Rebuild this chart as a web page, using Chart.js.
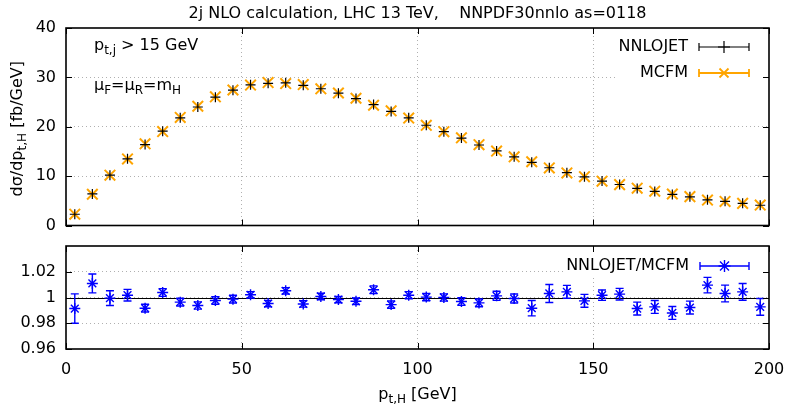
<!DOCTYPE html>
<html>
<head>
<meta charset="utf-8">
<script src="https://cdn.jsdelivr.net/npm/chart.js@4.4.0/dist/chart.umd.min.js"></script>
<style>
  html, body { margin: 0; padding: 0; background: #fff; }
  #wrap { position: relative; width: 786px; height: 406px; }
  canvas { position: absolute; left: 0; }
  #topChart { top: 0; }
  #ratioChart { top: 235px; }
</style>
</head>
<body>
<div id="wrap">
  <canvas id="topChart" width="786" height="235"></canvas>
  <canvas id="ratioChart" width="786" height="171"></canvas>
</div>
<script>
// bin centres, pt_H [GeV]
const binCentres = [2.5, 7.5, 12.5, 17.5, 22.5, 27.5, 32.5, 37.5, 42.5, 47.5,
    52.5, 57.5, 62.5, 67.5, 72.5, 77.5, 82.5, 87.5, 92.5, 97.5,
    102.5, 107.5, 112.5, 117.5, 122.5, 127.5, 132.5, 137.5, 142.5, 147.5,
    152.5, 157.5, 162.5, 167.5, 172.5, 177.5, 182.5, 187.5, 192.5, 197.5];

// dsigma/dpt [fb/GeV]
const nnlojet = [2.28, 6.4, 10.2, 13.5, 16.4, 19.1, 21.8, 24.0, 26.0, 27.4,
    28.5, 28.8, 28.9, 28.4, 27.7, 26.8, 25.7, 24.5, 23.1, 21.8,
    20.3, 19.0, 17.7, 16.3, 15.1, 13.9, 12.8, 11.7, 10.7, 9.85,
    9.0, 8.3, 7.5, 6.9, 6.3, 5.8, 5.2, 4.9, 4.5, 4.1];
const mcfm = [2.30, 6.33, 10.2, 13.48, 16.54, 19.03, 21.88, 24.15, 26.06, 27.44,
    28.44, 28.94, 28.75, 28.54, 27.68, 26.84, 25.77, 24.35, 23.23, 21.76,
    20.29, 19.0, 17.75, 16.37, 15.08, 13.91, 12.91, 11.66, 10.65, 9.88,
    8.98, 8.28, 7.56, 6.95, 6.38, 5.85, 5.15, 4.88, 4.48, 4.13];

// NNLOJET / MCFM
const ratio = [0.9914, 1.0109, 0.9995, 1.0018, 0.9917, 1.0039, 0.9964, 0.9938, 0.9977, 0.9987,
    1.0021, 0.9953, 1.0052, 0.9950, 1.0008, 0.9984, 0.9971, 1.0060, 0.9945, 1.0018,
    1.0003, 1.0000, 0.9969, 0.9958, 1.0013, 0.9992, 0.9917, 1.0031, 1.0044, 0.9974,
    1.0018, 1.0026, 0.9914, 0.9927, 0.9880, 0.9922, 1.0096, 1.0031, 1.0044, 0.9927];
const ratioErr = [0.0114, 0.0073, 0.0057, 0.0045, 0.0030, 0.0030, 0.0030, 0.0028, 0.0030, 0.0030,
    0.0025, 0.0025, 0.0025, 0.0025, 0.0025, 0.0025, 0.0025, 0.0030, 0.0028, 0.0028,
    0.0028, 0.0028, 0.0030, 0.0030, 0.0035, 0.0035, 0.0060, 0.0070, 0.0050, 0.0050,
    0.0040, 0.0045, 0.0050, 0.0050, 0.0050, 0.0050, 0.0060, 0.0065, 0.0065, 0.0065];

const xTicks = [0, 50, 100, 150, 200];
const yTicksTop = [0, 10, 20, 30, 40];
const yTicksRatio = [0.96, 0.98, 1, 1.02];

const FONT = "'DejaVu Sans', sans-serif";
const FS = 16;
const AREA_LEFT = 66;
const PAD_RIGHT = 17;

function points(ys) {
    return binCentres.map(function (x, i) { return { x: x, y: ys[i] }; });
}

// text with subscripts: parts = [[text, isSub], ...]
function richWidth(ctx, parts, size) {
    let w = 0;
    parts.forEach(function (p) {
        ctx.font = (p[1] ? Math.round(size * 0.72) : size) + 'px ' + FONT;
        w += ctx.measureText(p[0]).width;
    });
    return w;
}
function drawRich(ctx, parts, x, y, size, align) {
    ctx.save();
    ctx.textBaseline = 'middle';
    ctx.textAlign = 'left';
    let w = richWidth(ctx, parts, size);
    let cx = align === 'center' ? x - w / 2 : (align === 'right' ? x - w : x);
    parts.forEach(function (p) {
        const s = p[1] ? Math.round(size * 0.72) : size;
        ctx.font = s + 'px ' + FONT;
        ctx.fillText(p[0], cx, p[1] ? y + 5 : y);
        cx += ctx.measureText(p[0]).width;
    });
    ctx.restore();
    return w;
}

function marker(ctx, type, x, y, r, color, lw) {
    ctx.save();
    ctx.strokeStyle = color;
    ctx.lineWidth = lw;
    ctx.beginPath();
    if (type === 'plus' || type === 'star') {
        ctx.moveTo(x - r, y); ctx.lineTo(x + r, y);
        ctx.moveTo(x, y - r); ctx.lineTo(x, y + r);
    }
    if (type === 'cross' || type === 'star') {
        const d = r * 0.75;
        ctx.moveTo(x - d, y - d); ctx.lineTo(x + d, y + d);
        ctx.moveTo(x - d, y + d); ctx.lineTo(x + d, y - d);
    }
    ctx.stroke();
    ctx.restore();
}

function keySample(ctx, x1, x2, y, color, type, lw) {
    ctx.save();
    ctx.strokeStyle = color;
    ctx.lineWidth = lw;
    ctx.beginPath();
    ctx.moveTo(x1, y); ctx.lineTo(x2, y);
    ctx.moveTo(x1, y - 4); ctx.lineTo(x1, y + 4);
    ctx.moveTo(x2, y - 4); ctx.lineTo(x2, y + 4);
    ctx.stroke();
    ctx.restore();
    marker(ctx, type, (x1 + x2) / 2, y, 6, color, lw);
}

// frame with inward ticks on all four sides
function drawFrame(chart, xt, yt) {
    const ctx = chart.ctx, a = chart.chartArea;
    const xs = chart.scales.x, ys = chart.scales.y;
    ctx.save();
    ctx.strokeStyle = '#000';
    ctx.lineWidth = 1;
    ctx.beginPath();
    xt.forEach(function (v) {
        const px = Math.round(xs.getPixelForValue(v)) + 0.5;
        ctx.moveTo(px, a.bottom); ctx.lineTo(px, a.bottom - 6);
        ctx.moveTo(px, a.top); ctx.lineTo(px, a.top + 6);
    });
    yt.forEach(function (v) {
        const py = Math.round(ys.getPixelForValue(v)) + 0.5;
        ctx.moveTo(a.left, py); ctx.lineTo(a.left + 6, py);
        ctx.moveTo(a.right, py); ctx.lineTo(a.right - 6, py);
    });
    ctx.stroke();
    ctx.lineWidth = 1.6;
    ctx.strokeRect(a.left, a.top, a.right - a.left, a.bottom - a.top);
    ctx.restore();
}

const topDecor = {
    id: 'topDecor',
    beforeDatasetsDraw: function (chart) {
        const ctx = chart.ctx, a = chart.chartArea;
        ctx.save();
        ctx.fillStyle = '#fff';
        ctx.fillRect(615, a.top + 1, a.right - 616, 60);
        ctx.fillRect(90, 78, 105, 22);
        ctx.fillStyle = '#000';
        drawRich(ctx, [['p', 0], ['t,j', 1], [' > 15 GeV', 0]], 94, 46, FS, 'left');
        drawRich(ctx, [['μ', 0], ['F', 1], ['=μ', 0], ['R', 1], ['=m', 0], ['H', 1]], 94, 86, FS, 'left');
        drawRich(ctx, [['NNLOJET', 0]], 688, 47, FS, 'right');
        drawRich(ctx, [['MCFM', 0]], 688, 73, FS, 'right');
        keySample(ctx, 699, 749, 47, '#000', 'plus', 1.2);
        keySample(ctx, 699, 749, 73, '#ffa500', 'cross', 1.8);
        drawRich(ctx, [['2j NLO calculation, LHC 13 TeV,    NNPDF30nnlo as=0118', 0]],
            (a.left + a.right) / 2, 14, FS, 'center');
        ctx.translate(18, (a.top + a.bottom) / 2 + 2);
        ctx.rotate(-Math.PI / 2);
        drawRich(ctx, [['dσ/dp', 0], ['t,H', 1], [' [fb/GeV]', 0]], 0, 0, FS, 'center');
        ctx.restore();
    },
    afterDraw: function (chart) { drawFrame(chart, xTicks, yTicksTop); }
};

const ratioDecor = {
    id: 'ratioDecor',
    beforeDatasetsDraw: function (chart) {
        const ctx = chart.ctx, a = chart.chartArea;
        const xs = chart.scales.x, ys = chart.scales.y;
        ctx.save();
        // reference line at 1
        ctx.strokeStyle = '#000';
        ctx.lineWidth = 1;
        const p1 = Math.round(ys.getPixelForValue(1)) + 0.5;
        ctx.beginPath();
        ctx.moveTo(a.left, p1); ctx.lineTo(a.right, p1);
        ctx.stroke();
        ctx.fillStyle = '#fff';
        ctx.fillRect(565, a.top + 1, a.right - 566, 28);
        ctx.fillStyle = '#000';
        drawRich(ctx, [['NNLOJET/MCFM', 0]], 689, 31, FS, 'right');
        keySample(ctx, 700, 749, 31, '#0000ff', 'star', 1.4);
        // error bars
        ctx.strokeStyle = '#0000ff';
        ctx.lineWidth = 1.4;
        ctx.beginPath();
        binCentres.forEach(function (x, i) {
            const px = xs.getPixelForValue(x);
            const lo = ys.getPixelForValue(ratio[i] - ratioErr[i]);
            const hi = ys.getPixelForValue(ratio[i] + ratioErr[i]);
            ctx.moveTo(px, lo); ctx.lineTo(px, hi);
            ctx.moveTo(px - 4, lo); ctx.lineTo(px + 4, lo);
            ctx.moveTo(px - 4, hi); ctx.lineTo(px + 4, hi);
        });
        ctx.stroke();
        ctx.fillStyle = '#000';
        drawRich(ctx, [['p', 0], ['t,H', 1], [' [GeV]', 0]], (a.left + a.right) / 2, 160, FS, 'center');
        ctx.restore();
    },
    afterDraw: function (chart) { drawFrame(chart, xTicks, yTicksRatio); }
};

function gridColor(ctx) {
    const t = ctx.tick;
    if (!t) return 'rgba(0,0,0,0)';
    const s = ctx.scale;
    return (t.value <= s.min || t.value >= s.max) ? 'rgba(0,0,0,0)' : '#b0b0b0';
}

function noPad(s) {
    s.paddingLeft = 0; s.paddingRight = 0; s.paddingTop = 0; s.paddingBottom = 0;
}

function drawCharts() {
    new Chart($('topChart'), {
        type: 'scatter',
        data: {
            datasets: [{
                label: 'NNLOJET',
                data: points(nnlojet),
                pointStyle: 'cross',
                radius: 5,
                borderColor: '#000',
                backgroundColor: '#000',
                borderWidth: 1.2
            }, {
                label: 'MCFM',
                data: points(mcfm),
                pointStyle: 'crossRot',
                radius: 7.5,
                borderColor: '#ffa500',
                backgroundColor: '#ffa500',
                borderWidth: 2
            }]
        },
        options: {
            responsive: false,
            animation: false,
            events: [],
            layout: { padding: { left: 0, right: PAD_RIGHT, top: 28, bottom: 6 } },
            plugins: {
                legend: { display: false },
                tooltip: { enabled: false }
            },
            scales: {
                x: {
                    type: 'linear', min: 0, max: 200,
                    afterBuildTicks: function (s) { s.ticks = xTicks.map(function (v) { return { value: v }; }); },
                    afterFit: function (s) { s.height = 0; noPad(s); },
                    ticks: { display: false },
                    border: { display: false, dash: [1, 3] },
                    grid: { drawTicks: false, color: gridColor, lineWidth: 1 }
                },
                y: {
                    min: 0, max: 40,
                    afterBuildTicks: function (s) { s.ticks = yTicksTop.map(function (v) { return { value: v }; }); },
                    afterFit: function (s) { s.width = AREA_LEFT; noPad(s); },
                    ticks: { padding: 10, color: '#000', font: { family: FONT, size: FS } },
                    border: { display: false, dash: [1, 3] },
                    grid: { drawTicks: false, color: gridColor, lineWidth: 1 }
                }
            }
        },
        plugins: [topDecor]
    });

    new Chart($('ratioChart'), {
        type: 'scatter',
        data: {
            datasets: [{
                label: 'NNLOJET/MCFM',
                data: points(ratio),
                pointStyle: 'star',
                radius: 5.5,
                borderColor: '#0000ff',
                backgroundColor: '#0000ff',
                borderWidth: 1.4
            }]
        },
        options: {
            responsive: false,
            animation: false,
            events: [],
            layout: { padding: { left: 0, right: PAD_RIGHT, top: 11, bottom: 0 } },
            plugins: {
                legend: { display: false },
                tooltip: { enabled: false }
            },
            scales: {
                x: {
                    type: 'linear', min: 0, max: 200,
                    afterBuildTicks: function (s) { s.ticks = xTicks.map(function (v) { return { value: v }; }); },
                    afterFit: function (s) { s.height = 57; noPad(s); },
                    ticks: { padding: 11, color: '#000', font: { family: FONT, size: FS } },
                    border: { display: false, dash: [1, 3] },
                    grid: { drawTicks: false, color: gridColor, lineWidth: 1 }
                },
                y: {
                    min: 0.96, max: 1.04,
                    afterBuildTicks: function (s) { s.ticks = yTicksRatio.map(function (v) { return { value: v }; }); },
                    afterFit: function (s) { s.width = AREA_LEFT; noPad(s); },
                    ticks: {
                        padding: 10, color: '#000', font: { family: FONT, size: FS },
                        callback: function (v) { return String(Math.round(v * 100) / 100); }
                    },
                    border: { display: false, dash: [1, 3] },
                    grid: { drawTicks: false, color: gridColor, lineWidth: 1 }
                }
            }
        },
        plugins: [ratioDecor]
    });
}

function $(id) { return document.getElementById(id); }

drawCharts();
</script>
</body>
</html>
